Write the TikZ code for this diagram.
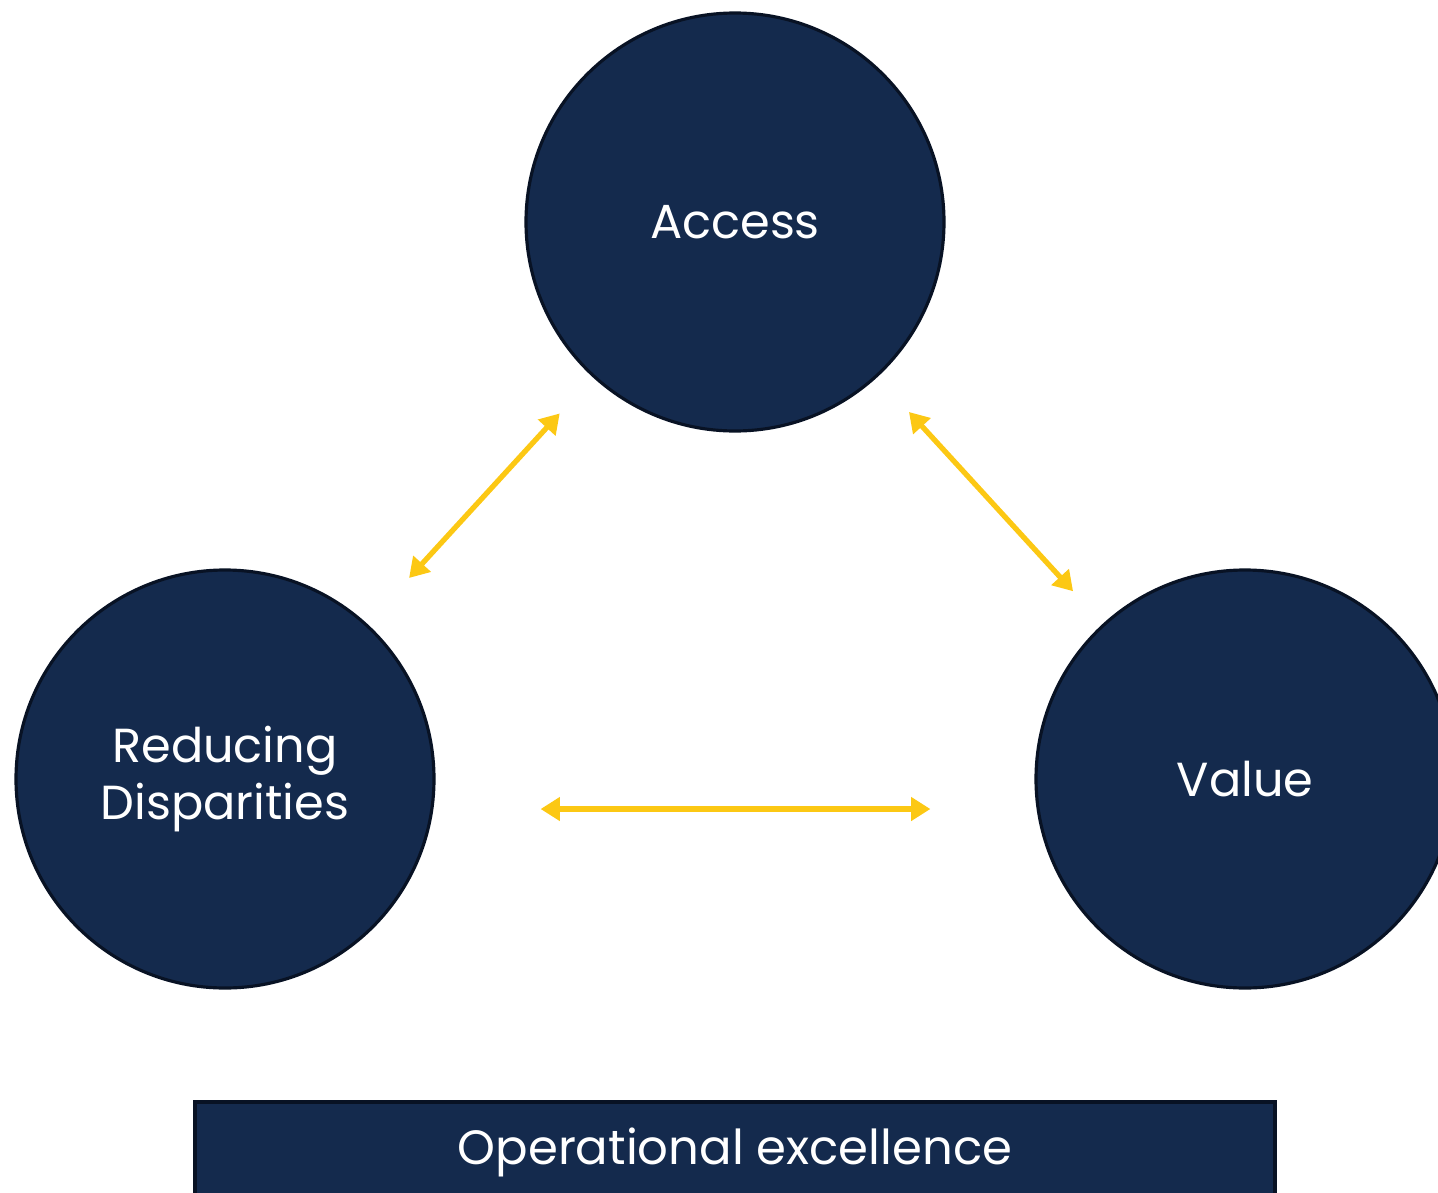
\documentclass[tikz,border=0pt]{standalone}
\usepackage{fontspec}
\setmainfont{Poppins}
\usetikzlibrary{arrows.meta}
\definecolor{navy}{RGB}{20,42,77}
\definecolor{navyline}{RGB}{8,18,36}
\definecolor{gold}{RGB}{252,200,20}

\begin{document}
\begin{tikzpicture}
				\tikzstyle{pillar}=[circle,fill=navy,draw=navyline,line width=0.9pt,
				minimum size=4.18cm,inner sep=0pt,text=white,align=center,
				font=\fontsize{13.6}{16}\selectfont]
				\tikzstyle{base}=[rectangle,fill=navy,draw=navyline,line width=0.9pt,
				minimum width=10.8cm,minimum height=1cm,text=white,
				font=\fontsize{13.7}{16}\selectfont]
				\tikzstyle{link}=[draw=gold,line width=1.5pt,
				{Triangle[length=5.5pt,width=6.5pt]}-{Triangle[length=5.5pt,width=6.5pt]}]
				\useasboundingbox (0,0) rectangle (14.38,-11.92);
				\clip (0,0) rectangle (14.38,-11.92);
				% three circles
				\node[pillar] (access) at (7.35,-2.22) {Access};
				\node[pillar] (reduce) at (2.25,-7.79) {Reducing\\Disparities};
				\node[pillar] (value) at (12.45,-7.79) {Value};
				% bar at the bottom
				\node[base] (opex) at (7.35,-11.52) {Operational excellence};
				% arrows
				\draw[link,shorten <=0.62cm,shorten >=0.49cm] (reduce) -- (access);
				\draw[link,shorten <=0.47cm,shorten >=0.44cm] (access) -- (value);
				\draw[link,shorten <=1.05cm,shorten >=1.04cm]
				([yshift=-0.3cm]reduce.east) -- ([yshift=-0.3cm]value.west);
\end{tikzpicture}
\end{document}
